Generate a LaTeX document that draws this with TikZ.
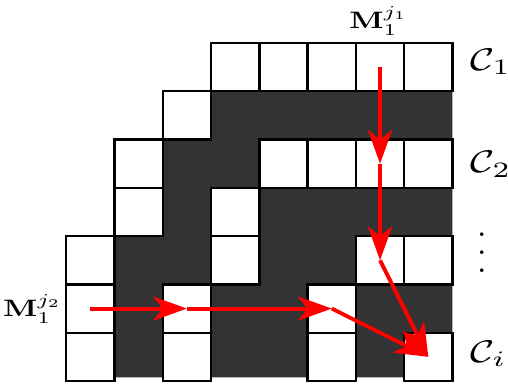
\documentclass[tikz,border=0pt]{standalone}
\usepackage{amsmath}
\usepackage{amssymb}
\usepackage{tikz}
\usetikzlibrary{arrows.meta}
\definecolor{darkbg}{rgb}{0.2,0.2,0.2}
\definecolor{hopred}{rgb}{1.0,0.0,0.0}
\newcommand{\bigvdots}{\vbox{\baselineskip=5.3pt \lineskiplimit=0pt \hbox{.}\hbox{.}\hbox{.}}}

\begin{document}
\begin{tikzpicture}
  [x=1cm,y=1cm,
   cell/.style={draw,fill=white,line width=1.4pt,minimum size=1cm,inner sep=0pt,outer sep=0pt},
   hop/.style={hopred,line width=2.3pt,-{Stealth[length=7mm,width=5mm,inset=2mm]}},
   mlab/.style={inner sep=0pt,xscale=1.85,yscale=1.4},
   clab/.style={inner sep=0pt,xscale=2.45,yscale=1.85}]

  \useasboundingbox (-1.37,-0.08) rectangle (9.15,7.89);

  % dark region under the cells
  \fill[darkbg,draw=gray!60,line width=0.4pt] (3,6) -- (8,6) -- (8,0.08) -- (1,0.08) -- (1,3) -- (2,3) -- (2,5) -- (3,5) -- cycle;

  % white cells, row/col with row 0 on top
  \foreach \r/\c in {0/3,0/4,0/5,0/6,0/7,1/2,2/1,2/4,2/5,2/6,2/7,3/1,3/3,4/0,4/3,4/6,4/7,5/0,5/2,5/5,6/0,6/2,6/5,6/7}
    \node[cell] (c-\r-\c) at (\c+0.5,6.5-\r) {};

  \node[mlab,anchor=base] (mj1) at (6.47,7.29) {$\mathbf{M}_1^{j_1}$};
  \node[mlab,anchor=base east] (mj2) at (-0.08,1.33) {$\mathbf{M}_1^{j_2}$};
  \node[clab,anchor=base west] (cl1) at (8.36,6.44) {$\mathcal{C}_1$};
  \node[clab,anchor=base west] (cl2) at (8.36,4.32) {$\mathcal{C}_2$};
  \node[inner sep=0pt,scale=2] (dots) at (8.61,2.65) {\bigvdots};
  \node[clab,anchor=base west] (cli) at (8.36,0.39) {$\mathcal{C}_i$};

  \foreach \from/\to in {c-0-6/c-2-6,c-2-6/c-4-6,c-4-6/c-6-7,c-5-0/c-5-2,c-5-2/c-5-5,c-5-5/c-6-7}
    \draw[hop] (\from.center) -- (\to.center);
\end{tikzpicture}
\end{document}
